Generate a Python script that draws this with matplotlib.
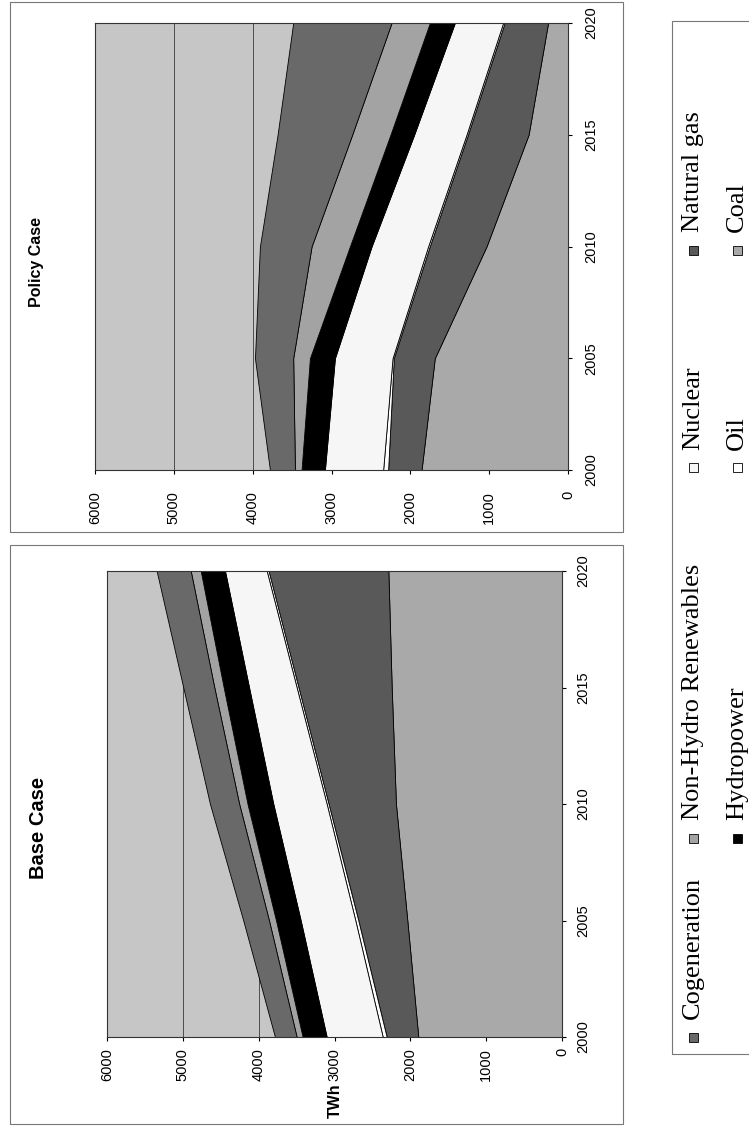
import numpy as np
import matplotlib.pyplot as plt
from matplotlib.patches import Rectangle

# Electricity generation by source, TWh
years = [2000, 2005, 2010, 2015, 2020]
sources = ['Coal', 'Natural gas', 'Oil', 'Nuclear', 'Hydropower',
           'Non-Hydro Renewables', 'Cogeneration']

base_coal = [1895, 2040, 2190, 2246, 2290]
base_gas = [417, 646, 888, 1229, 1580]
base_oil = [52, 39, 25, 24, 24]
base_nuclear = [739, 721, 704, 628, 550]
base_hydro = [317, 325, 340, 334, 320]
base_nhr = [79, 93, 110, 124, 132]
base_cogen = [286, 339, 385, 409, 449]

policy_coal = [1858, 1690, 1034, 500, 253]
policy_gas = [424, 520, 721, 770, 552]
policy_oil = [63, 16, 20, 18, 19]
policy_nuclear = [739, 731, 717, 664, 612]
policy_hydro = [296, 317, 275, 300, 317]
policy_nhr = [84, 212, 486, 486, 486]
policy_cogen = [317, 485, 655, 946, 1247]

value_ticks = [0, 1000, 2000, 3000, 4000, 5000, 6000]

# greys standing in for the scanned fill patterns
colors = ['#a9a9a9', '#595959', 'white', '#f6f6f6', 'black', '#a3a3a3', '#696969']
plot_bg = '#c6c6c6'

# legend layout as in the original (column-wise, first column has one entry)
legend_cols = [['Cogeneration'], ['Non-Hydro Renewables', 'Hydropower'],
               ['Nuclear', 'Oil'], ['Natural gas', 'Coal']]

W, H = 749, 1126
fig = plt.figure(figsize=(W / 100, H / 100), dpi=100)


def box(x0, y0, x1, y1):
    # pixel box (origin top-left) -> figure fraction rect
    return [x0 / W, 1 - y1 / H, (x1 - x0) / W, (y1 - y0) / H]


def fx(x):
    return x / W


def fy(y):
    return 1 - y / H


def panel(rect, data, tick_size, xpad, ypad):
    ax = fig.add_axes(rect)
    ax.set_facecolor(plot_bg)
    bottom = np.zeros(len(years))
    for vals, col in zip(data, colors):
        top = bottom + np.array(vals)
        ax.fill_betweenx(years, bottom, top, facecolor=col, edgecolor='black',
                         linewidth=0.6, zorder=2)
        bottom = top
    ax.set_xlim(6000, 0)
    ax.set_ylim(2000, 2020)
    ax.set_xticks(value_ticks)
    ax.set_yticks(years)
    ax.yaxis.tick_right()
    ax.set_axisbelow(True)
    ax.grid(axis='x', color='#3a3a3a', linewidth=0.6)
    ax.grid(axis='y', visible=False)
    ax.tick_params(axis='x', labelrotation=90, length=3, pad=xpad,
                   labelsize=tick_size, labelfontfamily='Liberation Sans')
    ax.tick_params(axis='y', labelrotation=90, length=3, pad=ypad,
                   labelsize=tick_size, labelfontfamily='Liberation Sans')
    for lbl in ax.get_yticklabels():
        lbl.set_verticalalignment('center')
    for s in ax.spines.values():
        s.set_linewidth(0.8)
        s.set_color('#333333')
    return ax


# Base Case (lower panel of the rotated page)
base = [base_coal, base_gas, base_oil, base_nuclear, base_hydro, base_nhr, base_cogen]
ax1 = panel(box(107, 571, 562, 1037), base, 10.5, 5, 7)
fig.text(fx(38), fy(828), 'Base Case', rotation=90, ha='center', va='center',
         family='Liberation Sans', fontweight='bold', fontsize=14.5)
fig.text(fx(335), fy(1083), 'TWh', rotation=90, ha='center', va='top',
         family='Liberation Sans', fontweight='bold', fontsize=11.5)

# Policy Case (upper panel)
policy = [policy_coal, policy_gas, policy_oil, policy_nuclear, policy_hydro,
          policy_nhr, policy_cogen]
ax2 = panel(box(95, 23, 568, 470), policy, 10.5, 12, 9)
fig.text(fx(37), fy(262), 'Policy Case', rotation=90, ha='center', va='center',
         family='Liberation Sans', fontweight='bold', fontsize=11.5)

# panel frames and legend frame
for x0, y0, x1, y1 in [(10, 2, 623, 532), (10, 545, 623, 1124), (672, 21, 760, 1054)]:
    fig.patches.append(Rectangle((fx(x0), fy(y1)), fx(x1) - fx(x0), fy(y0) - fy(y1),
                                 transform=fig.transFigure, fill=False,
                                 edgecolor='#777777', linewidth=0.8))

# legend, drawn by hand so it can be rotated with the page
col_y = [1037, 838, 468, 250]
row_x = [693, 737]
sq = 9
for cy, names in zip(col_y, legend_cols):
    for rx, name in zip(row_x, names):
        col = colors[sources.index(name)]
        fig.patches.append(Rectangle((fx(rx - sq / 2), fy(cy + sq / 2)), sq / W, sq / H,
                                     transform=fig.transFigure, facecolor=col,
                                     edgecolor='black', linewidth=0.6))
        fig.text(fx(rx), fy(cy - 18), name, rotation=90, ha='center', va='bottom',
                 family='Liberation Serif', fontsize=19)

fig.savefig('out.png', dpi=100)
